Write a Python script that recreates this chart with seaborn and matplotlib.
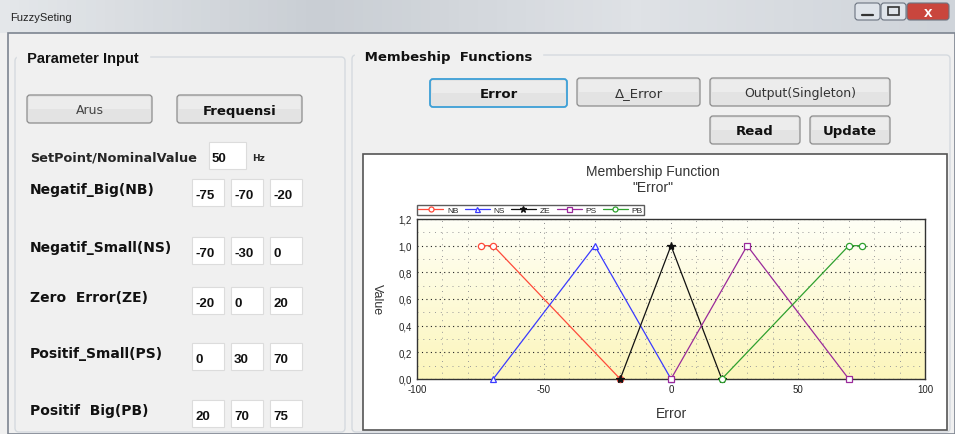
"""
FuzzySeting window: parameter inputs on the left, membership function
chart for the "Error" input on the right.
"""
import matplotlib
matplotlib.use("Agg")
import matplotlib.pyplot as plt
import numpy as np
import seaborn as sns
from matplotlib.colors import LinearSegmentedColormap
from matplotlib.patches import FancyBboxPatch, Rectangle
from matplotlib.ticker import FuncFormatter, MultipleLocator

# membership function parameters (error, in Hz)
set_names = ["NB", "NS", "ZE", "PS", "PB"]
set_labels = ["Negatif_Big(NB)", "Negatif_Small(NS)", "Zero  Error(ZE)",
              "Positif_Small(PS)", "Positif  Big(PB)"]
nb_x = [-75, -70, -20]
ns_x = [-70, -30, 0]
ze_x = [-20, 0, 20]
ps_x = [0, 30, 70]
pb_x = [20, 70, 75]
nb_y = [1, 1, 0]
ns_y = [0, 1, 0]
ze_y = [0, 1, 0]
ps_y = [0, 1, 0]
pb_y = [0, 1, 1]
setpoint = 50

xs = [nb_x, ns_x, ze_x, ps_x, pb_x]
ys = [nb_y, ns_y, ze_y, ps_y, pb_y]
colors = ["#ff4a3a", "#3a3aff", "#111111", "#9a2a9a", "#2ea02e"]
markers = ["o", "^", "*", "s", "o"]

sns.set_style("white")
plt.rcParams["font.family"] = ["Liberation Sans", "DejaVu Sans"]
plt.rcParams["axes.unicode_minus"] = False
GUI = "DejaVu Sans"

fig = plt.figure(figsize=(9.55, 4.35), dpi=100)
fig.patch.set_facecolor("#f0f0f0")

# background layer in pixel coordinates for the window chrome
bg = fig.add_axes([0, 0, 1, 1])
bg.set_xlim(0, 955)
bg.set_ylim(435, 0)
bg.axis("off")

# title bar
grad = np.linspace(0, 1, 100).reshape(1, -1)
bar_cmap = LinearSegmentedColormap.from_list("bar", ["#e4e7ea", "#c9ced4", "#dfe2e6", "#cfd4da"])
bg.imshow(grad, extent=[0, 955, 34, 0], aspect="auto", cmap=bar_cmap, zorder=0)
bg.text(10, 18, "FuzzySeting", fontsize=8, va="center", color="#222222")
bg.add_patch(Rectangle((8, 34), 947, 401, fc="#f0f0f0", ec="#7d8590", lw=1.2, zorder=1))
for x0, w, fc in [(855, 25, "#dfe4ea"), (881, 25, "#dfe4ea"), (907, 42, "#c9463d")]:
    bg.add_patch(FancyBboxPatch((x0, 4), w, 17, boxstyle="round,pad=0,rounding_size=3",
                                fc=fc, ec="#6b7380", lw=0.8, zorder=2))
bg.plot([862, 873], [16, 16], color="#333", lw=1.6, zorder=3)
bg.add_patch(Rectangle((888, 8), 11, 8, fc="none", ec="#333", lw=1.2, zorder=3))
bg.text(928, 13, "x", fontsize=11, fontweight="bold", color="white",
        ha="center", va="center", zorder=3)


def group(x0, y0, x1, y1, title, **font):
    bg.add_patch(FancyBboxPatch((x0, y0), x1 - x0, y1 - y0,
                                boxstyle="round,pad=0,rounding_size=4",
                                fc="#f0f0f0", ec="#d5dadf", lw=1, zorder=2))
    bg.text(x0 + 8, y0 + 1, " " + title + " ", fontweight="bold", va="center",
            color="#111", backgroundcolor="#f0f0f0", zorder=3, **font)


def button(x0, y0, x1, y1, label, bold=False, focus=False, fs=9, color="#111"):
    bg.add_patch(FancyBboxPatch((x0, y0), x1 - x0, y1 - y0,
                                boxstyle="round,pad=0,rounding_size=3",
                                fc="#e3e3e3", ec="#3c9fd6" if focus else "#8c8c8c",
                                lw=1.3 if focus else 0.9, zorder=3))
    bg.add_patch(Rectangle((x0 + 2, y0 + 2), x1 - x0 - 4, (y1 - y0) / 2 - 2,
                           fc="#ececec", ec="none", zorder=3))
    bg.text((x0 + x1) / 2, (y0 + y1) / 2 + 1, label, fontsize=fs, ha="center", va="center",
            family=GUI, fontweight="bold" if bold else "normal", color=color, zorder=4)


def textbox(x0, y0, w, value):
    bg.add_patch(Rectangle((x0, y0), w, 27, fc="white", ec="#dcdcdc", lw=0.8, zorder=3))
    bg.text(x0 + 3, y0 + 16, str(value), fontsize=9.5, fontweight="bold",
            va="center", color="#111", zorder=4)


# left panel
group(15, 58, 345, 433, "Parameter Input", fontsize=10.5)
button(27, 96, 152, 124, "Arus", fs=9, color="#444")
button(177, 96, 302, 124, "Frequensi", bold=True, fs=9.5)
bg.text(30, 158, "SetPoint/NominalValue", fontsize=9.3, fontweight="bold", family=GUI,
        va="center", zorder=4)
textbox(209, 143, 37, setpoint)
bg.text(252, 159, "Hz", fontsize=6.5, fontweight="bold", family=GUI, va="center", zorder=4)

row_y = [180, 238, 288, 344, 401]
for label, y0, params in zip(set_labels, row_y, xs):
    bg.text(30, y0 + 10, label, fontsize=10, fontweight="bold", family=GUI, va="center",
            color="#111", zorder=4)
    for k, v in enumerate(params):
        textbox(192 + k * 39, y0, 32, v)

# right panel
group(352, 56, 950, 433, "Membeship  Functions", fontsize=9.5, family=GUI)
button(430, 80, 567, 108, "Error", bold=True, focus=True, fs=9.5)
button(577, 79, 700, 107, "\u0394_Error", fs=9.5, color="#333")
button(710, 79, 890, 107, "Output(Singleton)", fs=9, color="#333")
button(710, 117, 800, 145, "Read", bold=True, fs=9.5)
button(810, 117, 890, 145, "Update", bold=True, fs=9.5)
bg.add_patch(Rectangle((363, 155), 584, 276, fc="white", ec="#555555", lw=1.2, zorder=3))
bg.text(653, 172, "Membership Function", fontsize=10, ha="center", va="center", color="#333", zorder=4)
bg.text(653, 188, "\"Error\"", fontsize=10, ha="center", va="center", color="#333", zorder=4)

# membership function chart, pale at the top and yellow towards the bottom
ax = fig.add_axes([417 / 955, (435 - 380) / 435, 508 / 955, 160 / 435], zorder=5)
yellow = LinearSegmentedColormap.from_list("yl", ["#fffff6", "#fcf6bc"])
ax.imshow(np.linspace(0, 1, 100).reshape(-1, 1), extent=[-100, 100, 0, 1.2],
          origin="upper", aspect="auto", cmap=yellow, zorder=0)

for name, x, y, c, m in zip(set_names, xs, ys, colors, markers):
    sns.lineplot(x=x, y=y, ax=ax, color=c, marker=m, markersize=4.5 if m != "*" else 6,
                 markerfacecolor="white" if m != "*" else c, markeredgecolor=c,
                 markeredgewidth=0.9, linewidth=0.9, label=name, sort=False,
                 clip_on=False, zorder=4)

ax.set_xlim(-100, 100)
ax.set_ylim(0, 1.2)
ax.xaxis.set_major_locator(MultipleLocator(50))
ax.xaxis.set_minor_locator(MultipleLocator(10))
ax.yaxis.set_major_locator(MultipleLocator(0.2))
ax.yaxis.set_minor_locator(MultipleLocator(0.1))
ax.yaxis.set_major_formatter(FuncFormatter(lambda v, p: f"{v:.1f}".replace(".", ",")))
ax.grid(which="major", axis="y", color="#222", linestyle=(0, (1, 3)), linewidth=0.8)
ax.grid(which="major", axis="x", color="#888", linestyle=(0, (1, 4)), linewidth=0.7)
ax.grid(which="minor", color="#999", linestyle=(0, (1, 5)), linewidth=0.7)
ax.tick_params(which="both", direction="in", labelsize=7, colors="#222")
ax.tick_params(which="major", length=4, width=0.8)
ax.tick_params(which="minor", length=2.5, width=0.6)
for s in ax.spines.values():
    s.set_color("#333")
    s.set_linewidth(1)
ax.set_xlabel("Error", fontsize=10, color="#333", labelpad=9)
ax.set_ylabel("Value", fontsize=9, color="#333", rotation=270, va="center")
ax.yaxis.set_label_coords(-0.078, 0.5)

leg = ax.legend(loc="lower left", bbox_to_anchor=(0.0, 1.025), ncol=5, fontsize=6,
                frameon=True, fancybox=False, edgecolor="#333", handlelength=3,
                handletextpad=0.5, columnspacing=0.7, borderpad=0.12, borderaxespad=0,
                markerscale=0.8)
leg.get_frame().set_linewidth(1)

fig.savefig("out.png", dpi=100, facecolor=fig.get_facecolor())
